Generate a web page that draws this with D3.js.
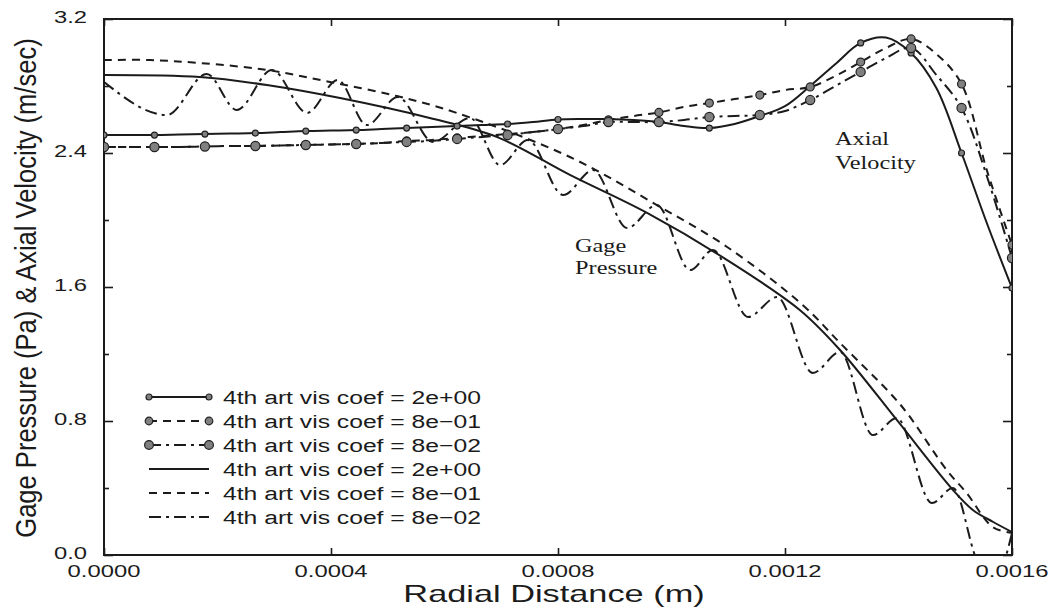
<!DOCTYPE html>
<html>
<head>
<meta charset="utf-8">
<script src="https://cdn.jsdelivr.net/npm/d3@7"></script>
<style>
  body { margin: 0; background: #fff; }
  svg { display: block; }
</style>
</head>
<body>
<svg id="chart"></svg>
<script>
// ticks
const xTicks = [0, 0.0004, 0.0008, 0.0012, 0.0016]
const xTickLabels = ["0.0000", "0.0004", "0.0008", "0.0012", "0.0016"]
const yTicks = [0, 0.8, 1.6, 2.4, 3.2]
const yTickLabels = ["0.0", "0.8", "1.6", "2.4", "3.2"]
const yMinor = [0.4, 1.2, 2.0, 2.8]

// axial velocity, sampled on a regular radial mesh (markers on every other node)
const velX = [0, 0.0000444, 0.0000889, 0.0001333, 0.0001778, 0.0002222, 0.0002667, 0.0003111, 0.0003556, 0.0004,
  0.0004444, 0.0004889, 0.0005333, 0.0005778, 0.0006222, 0.0006667, 0.0007111, 0.0007556, 0.0008, 0.0008444,
  0.0008889, 0.0009333, 0.0009778, 0.0010222, 0.0010667, 0.0011111, 0.0011556, 0.0012, 0.0012444, 0.0012889,
  0.0013333, 0.0013778, 0.0014222, 0.0014667, 0.0015111, 0.0015556, 0.0016]
const velCoef2 = [2.507, 2.507, 2.507, 2.510, 2.513, 2.516, 2.519, 2.525, 2.531, 2.534,
  2.537, 2.543, 2.549, 2.555, 2.561, 2.567, 2.573, 2.585, 2.600, 2.603,
  2.603, 2.597, 2.585, 2.561, 2.549, 2.573, 2.621, 2.680, 2.800, 2.931,
  3.057, 3.089, 2.997, 2.788, 2.400, 1.982, 1.594]
const velCoef08 = [2.436, 2.436, 2.436, 2.436, 2.439, 2.442, 2.442, 2.445, 2.448, 2.451,
  2.454, 2.460, 2.472, 2.478, 2.490, 2.502, 2.513, 2.525, 2.543, 2.567,
  2.597, 2.621, 2.642, 2.675, 2.698, 2.722, 2.746, 2.776, 2.794, 2.860,
  2.943, 3.027, 3.081, 2.991, 2.812, 2.298, 1.851]
const velCoef008 = [2.436, 2.436, 2.436, 2.436, 2.439, 2.442, 2.442, 2.445, 2.448, 2.451,
  2.454, 2.460, 2.466, 2.472, 2.484, 2.496, 2.507, 2.525, 2.543, 2.561,
  2.585, 2.585, 2.585, 2.597, 2.615, 2.621, 2.627, 2.651, 2.716, 2.800,
  2.884, 2.967, 3.027, 2.866, 2.669, 2.263, 1.773]

// gage pressure
const presX2 = [0, 0.000169, 0.000287, 0.000416, 0.000574, 0.000693, 0.000821, 0.000957, 0.001098, 0.001226,
  0.001297, 0.001397, 0.001496, 0.001531, 0.001567, 0.0016]
const presCoef2 = [2.866, 2.854, 2.806, 2.728, 2.609, 2.495, 2.269, 2.042, 1.761, 1.463,
  1.224, 0.806, 0.388, 0.269, 0.197, 0.137]
const presX08 = [0, 0.000081, 0.000169, 0.000287, 0.000398, 0.000516, 0.000622, 0.000821, 0.000980, 0.001098,
  0.001232, 0.001297, 0.001385, 0.001415, 0.001485, 0.001520, 0.001566, 0.0016]
const presCoef08 = [2.955, 2.955, 2.937, 2.896, 2.824, 2.740, 2.639, 2.376, 2.078, 1.839,
  1.49, 1.266, 0.967, 0.848, 0.507, 0.370, 0.167, 0.131]
const presX008 = [0, 0.000111, 0.000181, 0.000234, 0.000296, 0.000358, 0.000412, 0.000463, 0.000518, 0.000580,
  0.000645, 0.000698, 0.000747, 0.000809, 0.000862, 0.000922, 0.000974, 0.001033, 0.001073, 0.001135,
  0.001186, 0.001249, 0.001297, 0.001355, 0.001397, 0.001459, 0.001496, 0.001538, 0.001563, 0.001588, 0.0016]
const presCoef008 = [2.824, 2.627, 2.872, 2.657, 2.896, 2.639, 2.836, 2.567, 2.734, 2.466,
  2.609, 2.328, 2.478, 2.149, 2.298, 1.952, 2.090, 1.701, 1.821, 1.421,
  1.540, 1.087, 1.212, 0.716, 0.818, 0.310, 0.400, -0.03, -0.15, -0.02, 0.131]

const legendLabels = ["4th art vis coef = 2e+00", "4th art vis coef = 8e\u221201", "4th art vis coef = 8e\u221202",
  "4th art vis coef = 2e+00", "4th art vis coef = 8e\u221201", "4th art vis coef = 8e\u221202"]

const width = 1053, height = 610
const pLeft = 104, pRight = 1012, pTop = 19, pBottom = 555
const ink = "#1b1b1b"
const sans = "'Liberation Sans', Arial, Helvetica, sans-serif"
const serif = "'Liberation Serif', 'Times New Roman', serif"

const dashes = { solid: null, dash: "8,6", dashdot: "12,5,3,5" }

const x = d3.scaleLinear().domain([0, 0.0016]).range([pLeft, pRight])
const y = d3.scaleLinear().domain([0, 3.2]).range([pBottom, pTop])

const svg = d3.select("#chart")
    .attr("width", width)
    .attr("height", height)
    .attr("viewBox", [0, 0, width, height])

svg.append("defs").append("clipPath").attr("id", "plot")
  .append("rect")
    .attr("x", pLeft).attr("y", pTop)
    .attr("width", pRight - pLeft).attr("height", pBottom - pTop)

// tick marks, pointing inward on all four sides
const tickStyle = g => {
  g.select(".domain").remove()
  g.selectAll("line").attr("stroke", ink).attr("stroke-width", 1.6)
}
svg.append("g").attr("transform", `translate(${pLeft},0)`)
    .call(d3.axisRight(y).tickValues(yTicks).tickSize(9).tickFormat(""))
    .call(tickStyle)
svg.append("g").attr("transform", `translate(${pLeft},0)`)
    .call(d3.axisRight(y).tickValues(yMinor).tickSize(5).tickFormat(""))
    .call(tickStyle)
svg.append("g").attr("transform", `translate(${pRight},0)`)
    .call(d3.axisLeft(y).tickValues(yTicks).tickSize(9).tickFormat(""))
    .call(tickStyle)
svg.append("g").attr("transform", `translate(${pRight},0)`)
    .call(d3.axisLeft(y).tickValues(yMinor).tickSize(5).tickFormat(""))
    .call(tickStyle)
svg.append("g").attr("transform", `translate(0,${pBottom})`)
    .call(d3.axisTop(x).tickValues(xTicks).tickSize(7).tickFormat(""))
    .call(tickStyle)
svg.append("g").attr("transform", `translate(0,${pTop})`)
    .call(d3.axisBottom(x).tickValues(xTicks).tickSize(7).tickFormat(""))
    .call(tickStyle)

// frame
svg.append("rect")
    .attr("x", pLeft).attr("y", pTop)
    .attr("width", pRight - pLeft).attr("height", pBottom - pTop)
    .attr("fill", "none").attr("stroke", ink).attr("stroke-width", 2)

// tick labels (scan is stretched horizontally, so glyphs are widened)
svg.append("g").selectAll("text")
  .data(yTicks)
  .join("text")
    .attr("transform", d => `translate(87,${y(d) - 1}) scale(1.4,1)`)
    .attr("dy", "0.3em")
    .attr("text-anchor", "end")
    .attr("font-family", sans).attr("font-size", 17).attr("fill", ink)
    .text((d, i) => yTickLabels[i])

svg.append("g").selectAll("text")
  .data(xTicks)
  .join("text")
    .attr("transform", d => `translate(${x(d)},577) scale(1.4,1)`)
    .attr("text-anchor", "middle")
    .attr("font-family", sans).attr("font-size", 17).attr("fill", ink)
    .text((d, i) => xTickLabels[i])

// axis titles
svg.append("text")
    .attr("transform", `translate(554,602) scale(1.43,1)`)
    .attr("text-anchor", "middle")
    .attr("font-family", sans).attr("font-size", 24).attr("fill", ink)
    .text("Radial Distance (m)")

svg.append("text")
    .attr("transform", `translate(36,288) rotate(-90) scale(1.11,1.3)`)
    .attr("text-anchor", "middle")
    .attr("font-family", sans).attr("font-size", 23).attr("fill", ink)
    .text("Gage Pressure (Pa) & Axial Velocity (m/sec)")

// curves
const plot = svg.append("g").attr("clip-path", "url(#plot)")

const series = [
  { xs: presX2, ys: presCoef2, dash: dashes.solid, curve: d3.curveCatmullRom },
  { xs: presX08, ys: presCoef08, dash: dashes.dash, curve: d3.curveCatmullRom },
  { xs: presX008, ys: presCoef008, dash: dashes.dashdot, curve: d3.curveMonotoneX },
  { xs: velX, ys: velCoef2, dash: dashes.solid, curve: d3.curveCatmullRom, r: 3 },
  { xs: velX, ys: velCoef08, dash: dashes.dash, curve: d3.curveCatmullRom, r: 4 },
  { xs: velX, ys: velCoef008, dash: dashes.dashdot, curve: d3.curveCatmullRom, r: 4.6 }
]

series.forEach(s => {
  const pts = s.xs.map((xv, i) => [xv, s.ys[i]])
  const line = d3.line().x(d => x(d[0])).y(d => y(d[1])).curve(s.curve)
  plot.append("path")
      .attr("d", line(pts))
      .attr("fill", "none")
      .attr("stroke", ink)
      .attr("stroke-width", 2)
      .attr("stroke-dasharray", s.dash)
  if (s.r) {
    plot.append("g").selectAll("circle")
      .data(pts.filter((d, i) => i % 2 === 0))
      .join("circle")
        .attr("cx", d => x(d[0]))
        .attr("cy", d => y(d[1]))
        .attr("r", s.r)
        .attr("fill", "#808080")
        .attr("stroke", "#222")
        .attr("stroke-width", 1.2)
  }
})

// in-plot annotations
const note = (lines, xv, yv, gap) => {
  lines.forEach((t, i) => {
    svg.append("text")
        .attr("transform", `translate(${x(xv)},${y(yv) + i * gap}) scale(1.28,1)`)
        .attr("font-family", serif).attr("font-size", 19).attr("fill", ink)
        .text(t)
  })
}
note(["Gage", "Pressure"], 0.00083, 1.81, 22)
note(["Axial", "Velocity"], 0.001288, 2.448, 24)

// legend
const legendMarks = [
  { dash: dashes.solid, r: 3 }, { dash: dashes.dash, r: 3.8 }, { dash: dashes.dashdot, r: 4.4 },
  { dash: dashes.solid, r: 0 }, { dash: dashes.dash, r: 0 }, { dash: dashes.dashdot, r: 0 }
]
const legend = svg.append("g")
  .selectAll("g")
  .data(legendMarks.map((m, i) => ({ ...m, label: legendLabels[i] })))
  .join("g")
    .attr("transform", (d, i) => `translate(0,${397 + i * 24})`)

legend.append("line")
    .attr("x1", 149).attr("x2", 209)
    .attr("stroke", ink).attr("stroke-width", 2)
    .attr("stroke-dasharray", d => d.dash)
legend.filter(d => d.r > 0)
  .selectAll("circle")
  .data(d => [149, 209].map(cx => ({ cx, r: d.r })))
  .join("circle")
    .attr("cx", d => d.cx)
    .attr("r", d => d.r)
    .attr("fill", "#808080").attr("stroke", "#222").attr("stroke-width", 1.2)
legend.append("text")
    .attr("transform", "translate(223,0) scale(1.3,1)")
    .attr("dy", "0.36em")
    .attr("font-family", sans).attr("font-size", 19).attr("fill", ink)
    .text(d => d.label)
</script>
</body>
</html>
